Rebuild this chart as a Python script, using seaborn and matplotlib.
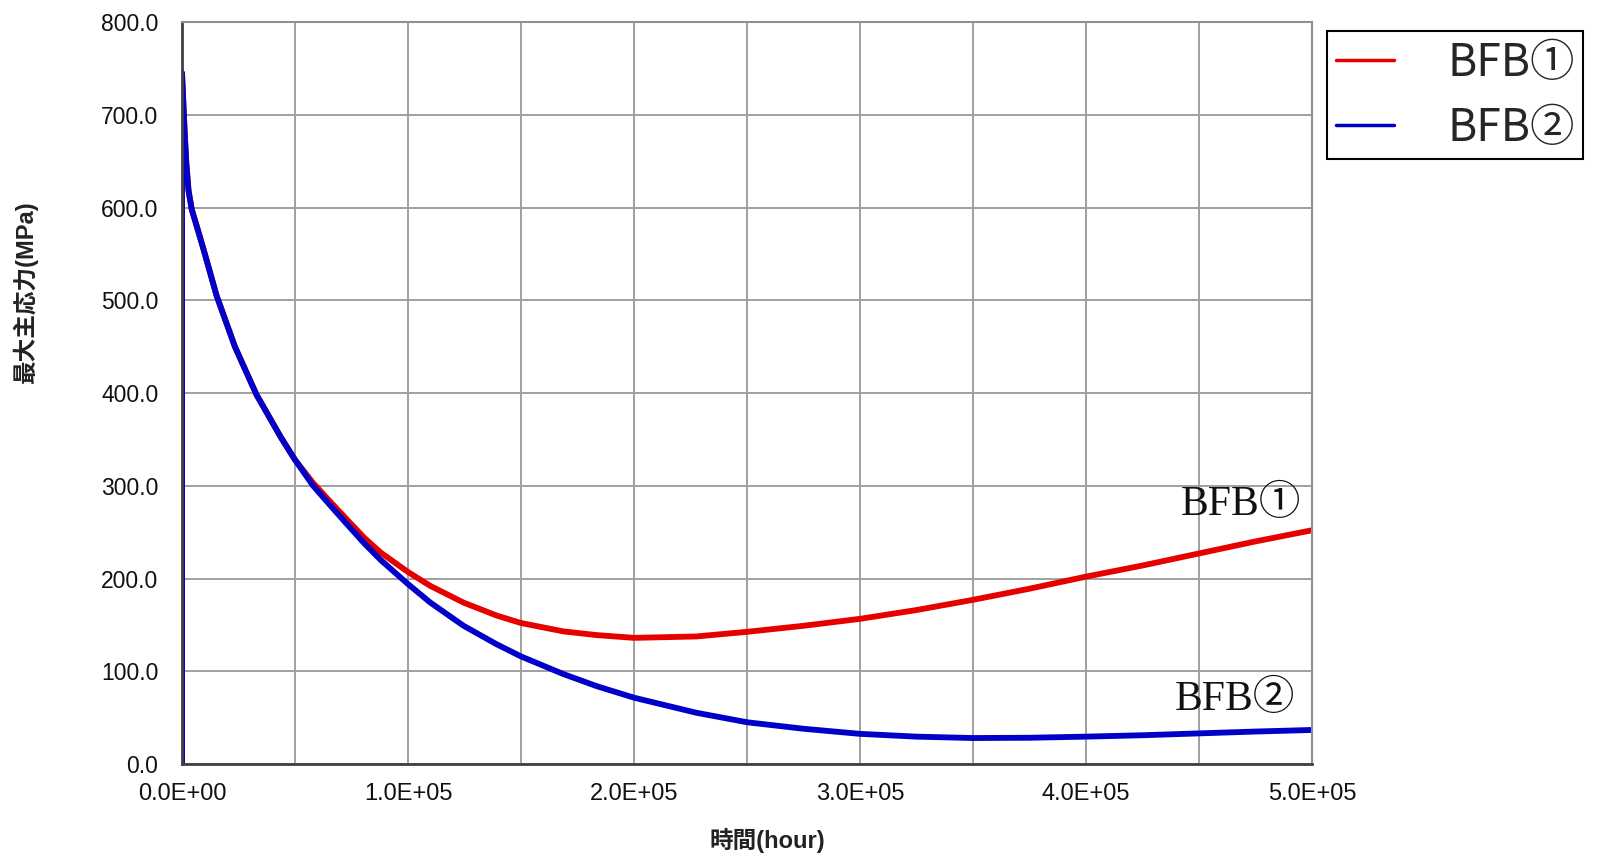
import pandas as pd
import matplotlib
matplotlib.use('Agg')
import matplotlib.pyplot as plt
import seaborn as sns
from matplotlib.ticker import MultipleLocator, FuncFormatter

# values
time_h = [0, 0, 600, 1200, 1900, 2900, 4300, 6500, 9400, 15300, 23400, 33000,
          43800, 50000, 58000, 65900, 73200, 80600, 87900, 100000, 109900,
          124600, 139300, 150000, 168700, 183400, 200000, 227500, 250000,
          275000, 300000, 325000, 350000, 375000, 400000, 425000, 450000,
          475000, 500000]
bfb1 = [0, 745, 712, 680, 648, 618, 598, 580, 556, 505, 450, 398,
        352, 328, 303, 282, 263, 244, 228, 207, 192,
        174, 160, 152, 143, 139, 136, 137.5, 142.5,
        149, 156.5, 166, 177, 189, 202, 214, 227,
        240, 252]
bfb2 = [0, 745, 712, 680, 648, 618, 598, 580, 556, 505, 450, 398,
        352, 328, 300, 278, 258, 238, 220, 194, 174,
        149, 129, 116, 97, 84, 71.5, 55.3, 45,
        38, 32.5, 29.5, 28, 28.3, 29.5, 31, 33,
        35, 36.7]
series_names = ['BFB①', 'BFB②']
series_colors = ['#e60000', '#0000c8']

df = pd.concat([
    pd.DataFrame({'time': time_h, 'stress': bfb1, 'series': series_names[0]}),
    pd.DataFrame({'time': time_h, 'stress': bfb2, 'series': series_names[1]}),
], ignore_index=True)

sns.set_style('white')
plt.rcParams['font.family'] = ['Liberation Sans', 'Noto Sans CJK JP', 'DejaVu Sans']

fig = plt.figure(figsize=(16.02, 8.56), dpi=100)
ax = fig.add_axes([182 / 1602, 1 - 764 / 856, 1130 / 1602, 742 / 856])

sns.lineplot(data=df, x='time', y='stress', hue='series', palette=series_colors,
             hue_order=series_names, estimator=None, sort=False, linewidth=4.2, ax=ax)

ax.set_xlim(0, 500000)
ax.set_ylim(0, 800)
ax.xaxis.set_major_locator(MultipleLocator(100000))
ax.xaxis.set_minor_locator(MultipleLocator(50000))
ax.yaxis.set_major_locator(MultipleLocator(100))
ax.xaxis.set_major_formatter(FuncFormatter(lambda v, p: f'{v:.1E}'))
ax.yaxis.set_major_formatter(FuncFormatter(lambda v, p: f'{v:.1f}'))
ax.grid(which='both', color='#a0a0a0', linewidth=1.4)
ax.set_axisbelow(True)
ax.tick_params(which='both', length=0)
ax.tick_params(axis='y', labelsize=16.5, pad=17, colors='#111111')
ax.tick_params(axis='x', labelsize=17, pad=14, colors='#111111')

for side in ['top', 'right']:
    ax.spines[side].set_color('#909090')
    ax.spines[side].set_linewidth(1.5)
for side in ['left', 'bottom']:
    ax.spines[side].set_color('#404040')
    ax.spines[side].set_linewidth(2)

ax.set_xlabel('時間(hour)', fontsize=17, fontweight='bold', color='#222222')
ax.xaxis.set_label_coords((767 - 182) / 1130, (764 - 840) / 742)
ax.xaxis.label.set_va('center')
ax.set_ylabel('最大主応力(MPa)', fontsize=17, fontweight='bold', color='#222222')
ax.yaxis.set_label_coords((25 - 182) / 1130, (764 - 292) / 742)
ax.yaxis.label.set_va('center')

serif = ['Liberation Serif', 'Noto Sans CJK JP', 'DejaVu Sans']
ax.text(495000, 268, 'BFB①', ha='right', va='baseline', fontsize=30, family=serif, color='#111111')
ax.text(492500, 58, 'BFB②', ha='right', va='baseline', fontsize=30, family=serif, color='#111111')

handles, labels = ax.get_legend_handles_labels()
ax.legend(handles, labels, loc='upper left', bbox_to_anchor=(1327 / 1602, 1 - 31 / 856),
          bbox_transform=fig.transFigure, borderaxespad=0, fancybox=False,
          edgecolor='black', framealpha=1, handlelength=1.3,
          handletextpad=1.2, borderpad=0.2, labelspacing=0.42,
          prop={'family': ['Noto Sans CJK JP', 'DejaVu Sans'], 'size': 32})
leg = ax.get_legend()
leg.get_frame().set_linewidth(1.5)
for line in leg.get_lines():
    line.set_linewidth(2.5)

fig.savefig('out.png', dpi=100)
